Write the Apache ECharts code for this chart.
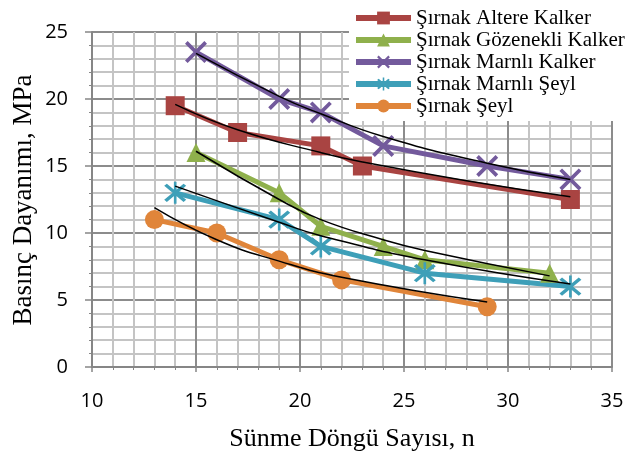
<!DOCTYPE html>
<html><head><meta charset="utf-8">
<script src="https://cdn.jsdelivr.net/npm/echarts@6/dist/echarts.min.js"></script>
<style>html,body{margin:0;padding:0;background:#fff}#c{width:636px;height:455px}</style>
</head><body><div id="c"></div>
<script>
const seriesNames = ['Şırnak Altere Kalker','Şırnak Gözenekli Kalker','Şırnak Marnlı Kalker','Şırnak Marnlı Şeyl','Şırnak Şeyl'];
const altereKalker = [[14,19.5],[17,17.5],[21,16.5],[23,15],[33,12.5]];
const gozenekliKalker = [[15,16],[19,13],[21,10.5],[24,9],[26,8],[32,7]];
const marnliKalker = [[15,23.5],[19,20],[21,19],[24,16.5],[29,15],[33,14]];
const marnliSeyl = [[14,13],[19,11],[21,9],[26,7],[33,6]];
const seyl = [[13,11],[16,10],[19,8],[22,6.5],[29,4.5]];
// trend lines
const trendAltere = [[14,19.6],[17,17.7],[21,16.0],[23,15.3],[28,13.9],[33,12.7]];
const trendGozenekli = [[15,16.1],[19,12.5],[21,11.0],[24,9.5],[26,8.7],[32,6.8]];
const trendMarnliKalker = [[15,23.4],[19,20.2],[21,18.9],[24,17.2],[29,15.2],[33,14.0]];
const trendMarnliSeyl = [[14,13.5],[19,10.8],[21,9.8],[26,8.0],[33,6.2]];
const trendSeyl = [[13,11.9],[16,9.5],[19,7.9],[22,6.7],[29,4.85]];
const xTicks = [10,15,20,25,30,35];
const yTicks = [0,5,10,15,20,25];
const xTitle = 'Sünme Döngü Sayısı, n';
const yTitle = 'Basınç Dayanımı, MPa';

const colors = ['#A94442','#8FB04C','#735A9C','#3E9FB8','#E0853A'];
const crossPath = 'path://M0,1.2L1.2,0L10,8.8L8.8,10ZM8.8,0L10,1.2L1.2,10L0,8.8Z';
const starPath = 'path://M0,1.2L1.2,0L10,8.8L8.8,10ZM8.8,0L10,1.2L1.2,10L0,8.8ZM4.4,-1L5.6,-1L5.6,11L4.4,11Z';
const symbols = ['rect','triangle',crossPath,starPath,'circle'];
const sizes = [19,19,22,22,19];
const data = [altereKalker,gozenekliKalker,marnliKalker,marnliSeyl,seyl];
const trends = [trendAltere,trendGozenekli,trendMarnliKalker,trendMarnliSeyl,trendSeyl];

const series = [];
data.forEach((d,i)=>{
  series.push({name:seriesNames[i],type:'line',data:d,symbol:symbols[i],symbolSize:sizes[i],
    lineStyle:{color:colors[i],width:5},itemStyle:{color:colors[i]},z:2});
});
trends.forEach((d,i)=>{
  series.push({name:'trend'+i,type:'line',data:d,smooth:true,symbol:'none',
    lineStyle:{color:'#000',width:1.5},z:3,silent:true});
});

const chart = echarts.init(document.getElementById('c'));
chart.setOption({
  animation:false,
  color:colors,
  grid:{left:92,right:24,top:32,bottom:88},
  legend:{data:seriesNames,orient:'vertical',left:349,top:3,itemWidth:55,itemHeight:16,itemGap:0,
    backgroundColor:'#fff',padding:[4,6,4,4],
    lineStyle:{width:6},
    textStyle:{fontFamily:'Liberation Serif',fontSize:21,lineHeight:22,color:'#000'}},
  graphic:[
    {type:'text',x:352,y:439,style:{text:xTitle,font:'26px "Liberation Serif"',fill:'#000',textAlign:'center',textVerticalAlign:'middle'}},
    {type:'text',x:24,y:200,rotation:Math.PI/2,style:{text:yTitle,font:'27px "Liberation Serif"',fill:'#000',textAlign:'center',textVerticalAlign:'middle'}}
  ],
  xAxis:{type:'value',min:10,max:35,interval:5,
    axisLine:{show:true,lineStyle:{color:'#868686',width:2}},
    axisTick:{show:true,length:5,lineStyle:{color:'#868686',width:1.5}},
    minorTick:{show:true,splitNumber:5,length:3,lineStyle:{color:'#868686'}},
    axisLabel:{fontFamily:'Open Sans',fontSize:20,color:'#000',margin:24},
    splitLine:{show:true,lineStyle:{color:'#8c8c8c',width:2}},
    minorSplitLine:{show:true,lineStyle:{color:'#c4c4c4',width:2}}},
  yAxis:{type:'value',min:0,max:25,interval:5,
    axisLine:{show:true,lineStyle:{color:'#868686',width:2}},
    axisTick:{show:true,length:7,lineStyle:{color:'#868686',width:1.5}},
    minorTick:{show:true,splitNumber:5,length:3,lineStyle:{color:'#868686'}},
    axisLabel:{fontFamily:'Open Sans',fontSize:20,color:'#000',margin:24},
    splitLine:{show:true,lineStyle:{color:'#8c8c8c',width:2}},
    minorSplitLine:{show:true,lineStyle:{color:'#c4c4c4',width:2}}},
  series:series
});
</script></body></html>
